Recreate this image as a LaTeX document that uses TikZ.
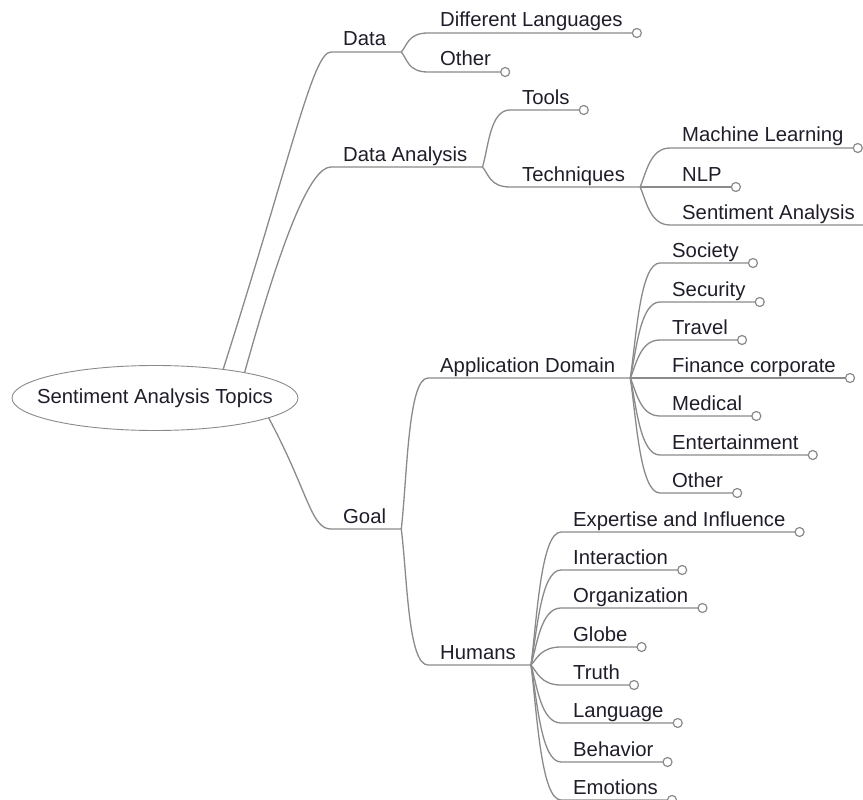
\documentclass[tikz,border=0pt]{standalone}
\usepackage{fontspec}
\setmainfont{Liberation Sans}
\usetikzlibrary{shapes.geometric,calc}
\definecolor{wire}{HTML}{8A8A8A}
\definecolor{ink}{HTML}{1E1E2A}
\tikzset{
    txt/.style={text=ink, font=\fontsize{20.3}{24}\selectfont},
    topic/.style={txt, anchor=base west, inner sep=0pt},
    wirestyle/.style={draw=wire, line width=1.3pt},
    knob/.style={draw=wire, fill=white, line width=1.2pt}
}
\begin{document}
\begin{tikzpicture}[x=1pt, y=-1pt]
    \clip (0,0) rectangle (863,800);

    % root
    \node[txt, draw=wire, line width=0.9pt, ellipse, inner xsep=-20pt, inner ysep=0pt,
          minimum width=286pt, minimum height=65pt] (root) at (155,398) {Sentiment Analysis Topics};

    % first level
    \node[topic] (data) at (343,46) {Data};
    \node[topic] (dan) at (343,161) {Data Analysis};
    \node[topic] (goal) at (343,523) {Goal};

    % inner topics
    \node[topic] (tech) at (522,181) {Techniques};
    \node[topic] (appdom) at (440,372) {Application Domain};
    \node[topic] (humans) at (440,659) {Humans};

    \foreach \n in {data,dan,goal,tech,appdom,humans} {
        \coordinate (\n-s) at ([xshift=-12pt,yshift=-6pt]\n.base west);
        \coordinate (\n-b) at ([xshift=15pt,yshift=-6pt]\n.base east);
    }

    \draw[wirestyle] (root.23) .. controls +(70,-220) and +(-18,0) .. (data-s) -- (data-b);
    \draw[wirestyle] (root.16) .. controls +(39,-140) and +(-20,0) .. (dan-s) -- (dan-b);
    \draw[wirestyle] (root.350) .. controls +(40,75) and +(-20,0) .. (goal-s) -- (goal-b);

    \draw[wirestyle] (dan-b) .. controls +(6,7) and +(-20,0) .. (tech-s) -- (tech-b);
    \draw[wirestyle] (goal-b) .. controls +(6,-53) and +(-20,0) .. (appdom-s) -- (appdom-b);
    \draw[wirestyle] (goal-b) .. controls +(6,48) and +(-20,0) .. (humans-s) -- (humans-b);

    % leaves
    \foreach \n/\p/\x/\y/\t in {
        dlang/data-b/440/33/Different Languages, dother/data-b/440/72/Other,
        tools/dan-b/522/110/Tools,
        ml/tech-b/682/148/Machine Learning, nlp/tech-b/682/187/NLP, sa/tech-b/682/225/Sentiment Analysis,
        soc/appdom-b/672/263/Society, sec/appdom-b/672/302/Security, trav/appdom-b/672/340/Travel,
        fin/appdom-b/672/378/Finance corporate, med/appdom-b/672/416/Medical,
        ent/appdom-b/672/455/Entertainment, aother/appdom-b/672/493/Other,
        exp/humans-b/573/532/Expertise and Influence, inter/humans-b/573/570/Interaction,
        org/humans-b/573/608/Organization, glob/humans-b/573/647/Globe, truth/humans-b/573/685/Truth,
        lang/humans-b/573/723/Language, behav/humans-b/573/762/Behavior, emo/humans-b/573/800/Emotions} {
        \node[topic] (\n) at (\x,{\y-6}) {\t};
        \coordinate (\n-s) at ([xshift=-12pt,yshift=-6pt]\n.base west);
        \coordinate (\n-e) at ([xshift=14pt,yshift=-6pt]\n.base east);
        \draw[wirestyle] (\p) .. controls ($(\p)!.35!(\p |- \n-s) + (6,0)$) and +(-20,0) .. (\n-s) -- (\n-e);
        \filldraw[knob] (\n-e) circle (4.5pt);
    }
\end{tikzpicture}
\end{document}
